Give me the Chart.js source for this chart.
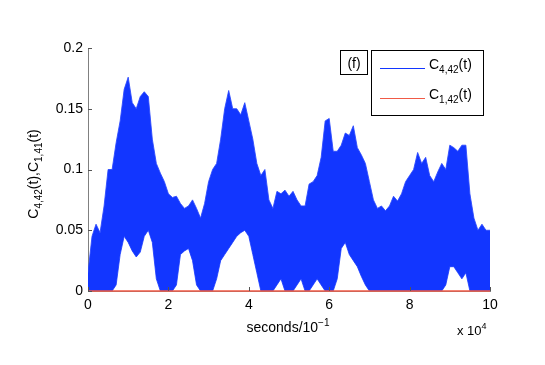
<!DOCTYPE html>
<html>
<head>
<meta charset="utf-8">
<script src="https://cdn.jsdelivr.net/npm/chart.js@4/dist/chart.umd.min.js"></script>
<style>
  html, body { margin: 0; padding: 0; background: #fff; }
  #wrap { width: 545px; height: 365px; position: relative; }
</style>
</head>
<body>
<div id="wrap"><canvas id="chart"></canvas></div>
<script>
// samples every 1000 units of time (axis shown in units of 10^4)
let sampleStep = 1000

// top and bottom edge of the blue C_4,42 band
let upperC442 = [
  0.015, 0.045, 0.055, 0.048, 0.07, 0.10, 0.10, 0.122, 0.14, 0.166,
  0.176, 0.155, 0.15, 0.16, 0.164, 0.16, 0.125, 0.105, 0.097, 0.09,
  0.08, 0.077, 0.078, 0.072, 0.068, 0.07, 0.075, 0.068, 0.06, 0.072,
  0.09, 0.1, 0.105, 0.125, 0.15, 0.165, 0.15, 0.15, 0.145, 0.155,
  0.14, 0.125, 0.105, 0.095, 0.1, 0.075, 0.068, 0.082, 0.08, 0.083,
  0.078, 0.082, 0.075, 0.07, 0.07, 0.088, 0.09, 0.095, 0.11, 0.14,
  0.142, 0.115, 0.115, 0.12, 0.13, 0.128, 0.136, 0.118, 0.112, 0.105,
  0.09, 0.075, 0.068, 0.07, 0.066, 0.07, 0.078, 0.074, 0.08, 0.09,
  0.095, 0.1, 0.114, 0.105, 0.11, 0.095, 0.09, 0.098, 0.105, 0.1,
  0.12, 0.118, 0.115, 0.12, 0.12, 0.08, 0.06, 0.05, 0.055, 0.05, 0.05
]
let lowerC442 = [
  0, 0, 0, 0, 0, 0, 0, 0.005, 0.03, 0.045,
  0.04, 0.033, 0.028, 0.032, 0.045, 0.05, 0.04, 0.01, 0, 0,
  0, 0, 0.005, 0.03, 0.033, 0.035, 0.025, 0.005, 0, 0,
  0, 0, 0.01, 0.025, 0.03, 0.035, 0.04, 0.045, 0.048, 0.05,
  0.045, 0.03, 0.015, 0, 0, 0, 0, 0.005, 0.01, 0,
  0, 0, 0.005, 0.01, 0, 0, 0.005, 0.01, 0.005, 0,
  0, 0, 0.01, 0.035, 0.04, 0.03, 0.025, 0.02, 0.012, 0.005,
  0, 0, 0, 0, 0, 0, 0, 0, 0, 0,
  0, 0, 0, 0, 0, 0, 0, 0, 0, 0.005,
  0.02, 0.02, 0.015, 0.01, 0.015, 0, 0, 0, 0, 0, 0
]

// C_1,42 sits at zero over the whole run
let c142Times = [0, 100000]
let c142Values = [0, 0]

// axis ticks
let xTicks = [0, 20000, 40000, 60000, 80000, 100000]
let yTicks = [0, 0.05, 0.1, 0.15, 0.2]

let blue = '#1236ff'
let red = 'rgb(240,90,70)'
let fontFamily = '"Liberation Sans", Arial, Helvetica, sans-serif'

function toPoints(values) {
    return values.map((v, i) => ({ x: i * sampleStep, y: v }))
}

// draw text made of plain / subscript / superscript pieces, returns width
function richText(ctx, x, y, parts, size, measureOnly) {
    let w = 0
    parts.forEach(p => {
        let small = p[1] !== ''
        ctx.font = (small ? Math.round(size * 0.72) : size) + 'px ' + fontFamily
        let dy = p[1] === 'sub' ? size * 0.32 : (p[1] === 'sup' ? -size * 0.45 : 0)
        if (!measureOnly) ctx.fillText(p[0], x + w, y + dy)
        w += ctx.measureText(p[0]).width
    })
    return w
}

let extrasPlugin = {
    id: 'extras',
    afterDraw(chart) {
        let ctx = chart.ctx
        let area = chart.chartArea
        let xs = chart.scales.x
        let ys = chart.scales.y
        ctx.save()

        // inward tick marks
        ctx.strokeStyle = '#555'
        ctx.lineWidth = 1
        ctx.beginPath()
        xTicks.forEach(t => {
            let px = Math.round(xs.getPixelForValue(t)) + 0.5
            ctx.moveTo(px, area.bottom)
            ctx.lineTo(px, area.bottom - 4)
        })
        yTicks.forEach(t => {
            let py = Math.round(ys.getPixelForValue(t)) + 0.5
            ctx.moveTo(area.left, py)
            ctx.lineTo(area.left + 4, py)
        })
        ctx.stroke()

        ctx.fillStyle = '#000'
        ctx.textBaseline = 'alphabetic'
        ctx.textAlign = 'left'

        // y axis title (rotated)
        let yTitle = [['C', ''], ['4,42', 'sub'], ['(t),C', ''], ['1,41', 'sub'], ['(t)', '']]
        ctx.save()
        ctx.translate(38, 174)
        ctx.rotate(-Math.PI / 2)
        let wy = richText(ctx, 0, 0, yTitle, 14, true)
        richText(ctx, -wy / 2, 0, yTitle, 14)
        ctx.restore()

        // x axis title
        let xTitle = [['seconds/10', ''], ['\u22121', 'sup']]
        let wx = richText(ctx, 0, 0, xTitle, 14, true)
        richText(ctx, 288 - wx / 2, 332, xTitle, 14)

        // exponent note
        richText(ctx, 457, 335, [['x 10', ''], ['4', 'sup']], 13)

        // (f) label box
        ctx.strokeStyle = '#000'
        ctx.strokeRect(340.5, 50.5, 27, 24)
        ctx.font = '14px ' + fontFamily
        ctx.textAlign = 'center'
        ctx.fillText('(f)', 354, 68)
        ctx.textAlign = 'left'

        // legend box
        ctx.fillStyle = '#fff'
        ctx.fillRect(371.5, 50.5, 112, 65)
        ctx.strokeRect(371.5, 50.5, 112, 65)
        ctx.fillStyle = '#000'
        let entries = [
            { color: blue, y: 68, label: [['C', ''], ['4,42', 'sub'], ['(t)', '']] },
            { color: red, y: 98, label: [['C', ''], ['1,42', 'sub'], ['(t)', '']] }
        ]
        entries.forEach(e => {
            ctx.strokeStyle = e.color
            ctx.beginPath()
            ctx.moveTo(380, e.y + 0.5)
            ctx.lineTo(425, e.y + 0.5)
            ctx.stroke()
            richText(ctx, 429, e.y + 1, e.label, 14)
        })

        ctx.restore()
    }
}

let ctx = document.querySelector('#chart').getContext('2d')

let chart = new Chart(ctx, {
    type: 'line',
    data: {
        datasets: [
            {
                label: 'C1,42(t)',
                data: c142Times.map((t, i) => ({ x: t, y: c142Values[i] })),
                borderColor: red,
                borderWidth: 1.5,
                pointRadius: 0,
                fill: false,
                clip: false,
                order: 0
            },
            {
                label: 'C4,42(t)',
                data: toPoints(upperC442),
                borderColor: 'rgba(40,70,255,0.85)',
                backgroundColor: blue,
                borderWidth: 1,
                pointRadius: 0,
                tension: 0,
                fill: '+1',
                order: 1
            },
            {
                label: 'C4,42 lower',
                data: toPoints(lowerC442),
                borderColor: 'rgba(40,70,255,0.85)',
                borderWidth: 1,
                pointRadius: 0,
                tension: 0,
                fill: false,
                order: 2
            }
        ]
    },
    options: {
        responsive: true,
        maintainAspectRatio: false,
        animation: false,
        layout: { padding: { top: 48, right: 55, bottom: 0, left: 0 } },
        plugins: {
            legend: { display: false },
            tooltip: { enabled: false }
        },
        scales: {
            x: {
                type: 'linear',
                min: 0,
                max: 100000,
                afterBuildTicks: s => { s.ticks = xTicks.map(v => ({ value: v })) },
                afterFit: s => { s.height = 74 },
                ticks: {
                    color: '#000',
                    padding: 6,
                    maxRotation: 0,
                    font: { family: fontFamily, size: 14 },
                    callback: v => String(v / 10000)
                },
                grid: { drawOnChartArea: false, drawTicks: false },
                border: { display: true, color: '#808080' }
            },
            y: {
                min: 0,
                max: 0.2,
                afterBuildTicks: s => { s.ticks = yTicks.map(v => ({ value: v })) },
                afterFit: s => { s.width = 88 },
                ticks: {
                    color: '#000',
                    padding: 5,
                    font: { family: fontFamily, size: 14 },
                    callback: v => String(+v.toFixed(2))
                },
                grid: { drawOnChartArea: false, drawTicks: false },
                border: { display: true, color: '#808080' }
            }
        }
    },
    plugins: [extrasPlugin]
})
</script>
</body>
</html>
